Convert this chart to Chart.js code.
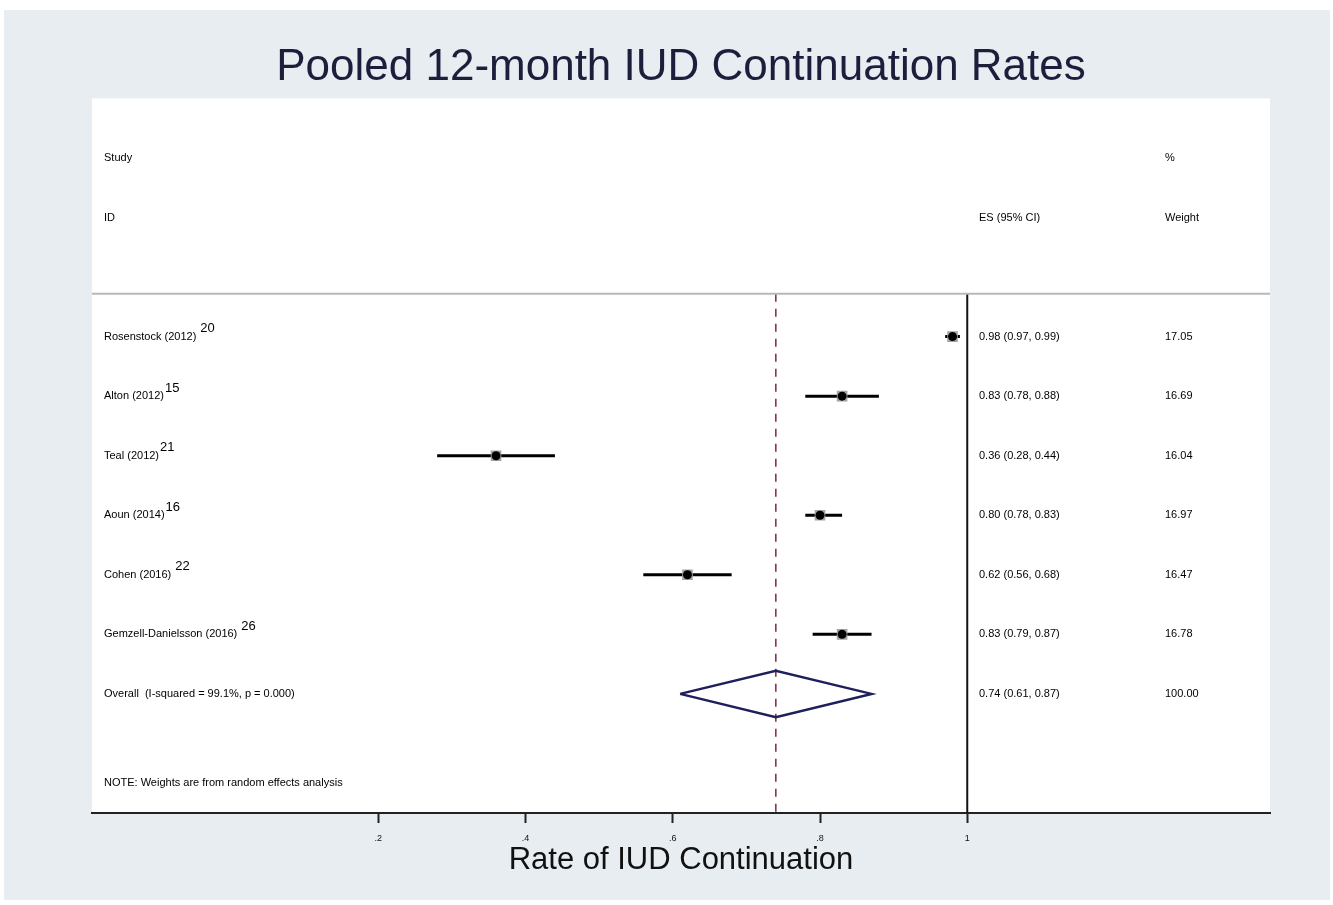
<!DOCTYPE html>
<html>
<head>
<meta charset="utf-8">
<script src="https://cdn.jsdelivr.net/npm/chart.js@4/dist/chart.umd.min.js"></script>
<style>
  html, body { margin: 0; padding: 0; background: #fff; }
  #wrap { width: 1333px; height: 905px; }
</style>
</head>
<body>
<div id="wrap"><canvas id="chart" width="1333" height="905"></canvas></div>
<script>
// study rows (top to bottom)
const studies = ['Rosenstock (2012)', 'Alton (2012)', 'Teal (2012)', 'Aoun (2014)', 'Cohen (2016)', 'Gemzell-Danielsson (2016)'];
const refs    = ['20', '15', '21', '16', '22', '26'];
const refGap  = [true, false, false, false, true, true];
const es      = [0.98, 0.83, 0.36, 0.80, 0.62, 0.83];
const ciLo    = [0.97, 0.78, 0.28, 0.78, 0.56, 0.79];
const ciHi    = [0.99, 0.88, 0.44, 0.83, 0.68, 0.87];
const weights = ['17.05', '16.69', '16.04', '16.97', '16.47', '16.78'];

// pooled estimate
const overallLabel = 'Overall  (I-squared = 99.1%, p = 0.000)';
const overallEs = 0.74, overallLo = 0.61, overallHi = 0.87;
const overallWeight = '100.00';

const xTicks      = [0.2, 0.4, 0.6, 0.8, 1];
const xTickLabels = ['.2', '.4', '.6', '.8', '1'];

const rows = studies.map((_, i) => i);   // row index = y value
const overallRow = studies.length;
const topRule = -0.72;
const yBottom = 8;

const fmt = v => v.toFixed(2);
const esText = es.map((v, i) => fmt(v) + ' (' + fmt(ciLo[i]) + ', ' + fmt(ciHi[i]) + ')');
const FONT = '"Liberation Sans", Arial, sans-serif';

const datasets = [];

// reference line at 1 and pooled dashed line
datasets.push({ order: 4, data: [{ x: 1, y: topRule }, { x: 1, y: yBottom }], showLine: true, borderColor: '#111', borderWidth: 2, pointRadius: 0 });
datasets.push({ order: 4, data: [{ x: overallEs, y: topRule }, { x: overallEs, y: yBottom }], showLine: true, borderColor: '#7d2638', borderWidth: 1.5, borderDash: [8, 7], pointRadius: 0 });

// CI whiskers
rows.forEach(i => {
    datasets.push({ order: 3, data: [{ x: ciLo[i], y: i }, { x: ciHi[i], y: i }], showLine: true, borderColor: '#000', borderWidth: 3, pointRadius: 0 });
});

// weight boxes + point estimates
datasets.push({ order: 2, data: rows.map(i => ({ x: es[i], y: i })), pointStyle: 'rect', pointRadius: 7.5, backgroundColor: '#a3a3a3', borderWidth: 0 });
datasets.push({ order: 1, data: rows.map(i => ({ x: es[i], y: i })), pointStyle: 'circle', pointRadius: 4.5, backgroundColor: '#000', borderWidth: 0 });

// pooled diamond
const dh = 0.39;
datasets.push({
    order: 1,
    data: [
        { x: overallLo, y: overallRow }, { x: overallEs, y: overallRow - dh },
        { x: overallHi, y: overallRow }, { x: overallEs, y: overallRow + dh },
        { x: overallLo, y: overallRow }
    ],
    showLine: true, borderColor: '#1f1f5c', borderWidth: 2.5, pointRadius: 0, tension: 0
});

const forestText = {
    id: 'forestText',
    beforeDraw(chart) {
        const { ctx, chartArea: a } = chart;
        ctx.save();
        ctx.fillStyle = '#e8edf1';
        ctx.fillRect(4, 10, 1326, 890);
        ctx.fillStyle = '#ffffff';
        ctx.fillRect(a.left, a.top, a.right - a.left, a.bottom - a.top);
        ctx.restore();
    },
    afterDatasetsDraw(chart) {
        const { ctx, chartArea: a, scales: { y } } = chart;
        const lx = a.left + 12, ex = a.left + 887, wx = a.left + 1073;
        const small = '11px ' + FONT, sup = '13px ' + FONT;
        ctx.save();
        // rule under headers
        ctx.strokeStyle = '#b8b8b8';
        ctx.lineWidth = 2;
        ctx.beginPath();
        ctx.moveTo(a.left, y.getPixelForValue(topRule));
        ctx.lineTo(a.right, y.getPixelForValue(topRule));
        ctx.stroke();

        ctx.fillStyle = '#000';
        ctx.textBaseline = 'middle';
        ctx.font = small;
        ctx.fillText('Study', lx, y.getPixelForValue(-3));
        ctx.fillText('ID', lx, y.getPixelForValue(-2));
        ctx.fillText('ES (95% CI)', ex, y.getPixelForValue(-2));
        ctx.fillText('%', wx, y.getPixelForValue(-3));
        ctx.fillText('Weight', wx, y.getPixelForValue(-2));

        rows.forEach(i => {
            const py = y.getPixelForValue(i);
            ctx.font = small;
            ctx.fillText(studies[i], lx, py);
            const w = ctx.measureText(studies[i]).width;
            ctx.fillText(esText[i], ex, py);
            ctx.fillText(weights[i], wx, py);
            ctx.font = sup;
            ctx.fillText(refs[i], lx + w + (refGap[i] ? 4 : 1), py - 8);
        });

        ctx.font = small;
        const oy = y.getPixelForValue(overallRow);
        ctx.fillText(overallLabel, lx, oy);
        ctx.fillText(fmt(overallEs) + ' (' + fmt(overallLo) + ', ' + fmt(overallHi) + ')', ex, oy);
        ctx.fillText(overallWeight, wx, oy);
        ctx.fillText('NOTE: Weights are from random effects analysis', lx, y.getPixelForValue(7.5));
        ctx.restore();
    }
};

new Chart(document.getElementById('chart'), {
    type: 'scatter',
    data: { datasets },
    options: {
        responsive: false,
        animation: false,
        layout: { padding: { left: 92, right: 63, top: 0, bottom: 29 } },
        scales: {
            x: {
                type: 'linear', min: -0.1888, max: 1.4112,
                afterBuildTicks: s => { s.ticks = xTicks.map(v => ({ value: v })); },
                ticks: {
                    autoSkip: false, maxRotation: 0, padding: 11,
                    color: '#111',
                    font: { family: FONT, size: 9, lineHeight: 1 },
                    callback: v => xTickLabels[xTicks.indexOf(v)]
                },
                grid: { drawOnChartArea: false, drawTicks: true, tickLength: 10, tickWidth: 2, color: '#222' },
                border: { display: true, color: '#222', width: 2 },
                title: {
                    display: true, text: 'Rate of IUD Continuation', color: '#111',
                    font: { family: FONT, size: 31, lineHeight: 1 },
                    padding: { top: -9, bottom: 0 }
                }
            },
            y: { type: 'linear', display: false, reverse: true, min: -4, max: 8 }
        },
        plugins: {
            legend: { display: false },
            tooltip: { enabled: false },
            title: {
                display: true,
                text: 'Pooled 12-month IUD Continuation Rates',
                color: '#1e1e3c',
                font: { family: FONT, size: 44, weight: 'normal', lineHeight: 1.1 },
                padding: { top: 44, bottom: 6 }
            }
        }
    },
    plugins: [forestText]
});
</script>
</body>
</html>
